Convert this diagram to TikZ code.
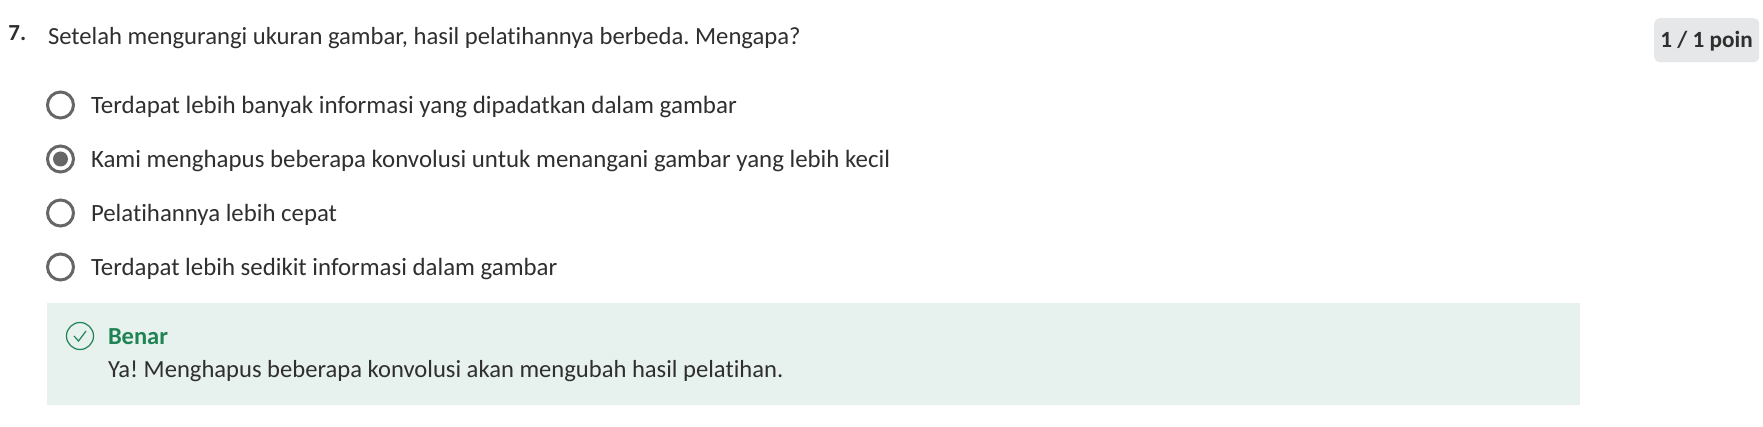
\documentclass[tikz,border=0pt]{standalone}
\usepackage{fontspec}
\setmainfont[Ligatures=NoCommon]{Carlito}
\frenchspacing
\definecolor{ink}{HTML}{2F2F2F}
\definecolor{ring}{HTML}{666666}
\definecolor{okbg}{HTML}{E7F1EE}
\definecolor{okgreen}{HTML}{1F8354}
\definecolor{badge}{HTML}{E5E7E8}
\tikzset{
  x=1pt,y=-1pt,
  txt/.style={anchor=base west,inner sep=0pt,outer sep=0pt,text=ink,font=\fontsize{#1}{28}\selectfont},
  txt/.default=24.8,
  bold/.style={anchor=base west,inner sep=0pt,outer sep=0pt,text=ink,font=\fontsize{#1}{28}\selectfont\bfseries},
  bold/.default=24.5,
  radio/.style={circle,draw=ring,line width=3pt,minimum size=26pt,inner sep=0pt,fill=white},
}
\begin{document}
\begin{tikzpicture}
\useasboundingbox (0,0) rectangle (1763,427);
\fill[white] (0,0) rectangle (1763,427);
\node[bold=23] (num) at (8.5,41) {7.};
\node[txt=24.65] (q) at (48,45) {Setelah mengurangi ukuran gambar, hasil pelatihannya berbeda. Mengapa?};
\node[fill=badge,rounded corners=6pt,minimum width=105pt,minimum height=44pt,inner sep=0pt,anchor=north west] (pts) at (1654,18) {};
\node[bold=23.2,anchor=base] (ptstext) at (1706.5,48) {1 / 1 poin};
\node[radio] (r1) at (60.5,105) {};
\node[radio] (r2) at (60.5,159) {};
\node[circle,fill=ring,minimum size=15pt,inner sep=0pt] (r2dot) at (r2) {};
\node[radio] (r3) at (60.5,213) {};
\node[radio] (r4) at (60.5,267) {};
\node[txt=24.95] (a1) at (91,114) {Terdapat lebih banyak informasi yang dipadatkan dalam gambar};
\node[txt=24.88] (a2) at (91,168) {Kami menghapus beberapa konvolusi untuk menangani gambar yang lebih kecil};
\node[txt=24.8] (a3) at (91,222) {Pelatihannya lebih cepat};
\node[txt=24.85] (a4) at (91,276) {Terdapat lebih sedikit informasi dalam gambar};
\node[fill=okbg,minimum width=1533pt,minimum height=102pt,inner sep=0pt,anchor=north west] (box) at (47,303) {};
\node[circle,draw=okgreen,line width=1.2pt,minimum size=27pt,inner sep=0pt] (chk) at (80,336) {};
\draw[okgreen,line width=1.2pt] (74,336) -- (78.5,341) -- (86,331);
\node[bold,text=okgreen] (ben) at (108,344.3) {Benar};
\node[txt=24.6] (fb) at (108,377) {Ya! Menghapus beberapa konvolusi akan mengubah hasil pelatihan.};
\end{tikzpicture}
\end{document}
